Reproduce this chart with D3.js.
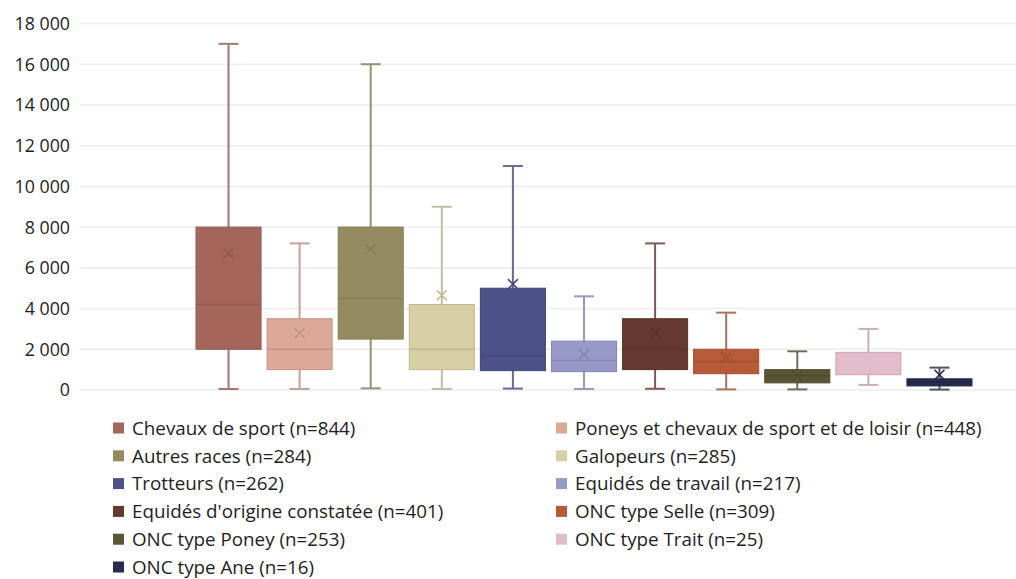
<!DOCTYPE html>
<html>
<head>
<meta charset="utf-8">
<script src="https://cdn.jsdelivr.net/npm/d3@7"></script>
<style>
  body { margin: 0; background: #fff; }
  svg { display: block; font-family: "Open Sans", sans-serif; }
</style>
</head>
<body>
<div id="chart"></div>
<script>
// data
var categories = ["Chevaux de sport", "Poneys et chevaux de sport et de loisir", "Autres races",
                  "Galopeurs", "Trotteurs", "Equidés de travail", "Equidés d'origine constatée",
                  "ONC type Selle", "ONC type Poney", "ONC type Trait", "ONC type Ane"];
var counts  = [844, 448, 284, 285, 262, 217, 401, 309, 253, 25, 16];
var mins    = [50, 50, 80, 50, 70, 50, 60, 30, 30, 250, 20];
var q1s     = [2000, 1000, 2500, 1000, 950, 900, 1000, 800, 350, 750, 200];
var medians = [4200, 2000, 4500, 2000, 1700, 1450, 2000, 1400, 700, 1250, 400];
var q3s     = [8000, 3500, 8000, 4200, 5000, 2400, 3500, 2000, 1000, 1850, 550];
var maxs    = [17000, 7200, 16000, 9000, 11000, 4600, 7200, 3800, 1900, 3000, 1100];
var means   = [6700, 2800, 6900, 4650, 5200, 1750, 2800, 1600, 700, 1300, 750];
var yTicks  = [0, 2000, 4000, 6000, 8000, 10000, 12000, 14000, 16000, 18000];

var colors = ["#a4665a", "#dca898", "#948c60", "#d7d0a4", "#4c5188", "#9899c8",
              "#653a2e", "#b75a37", "#5a5535", "#e3bccb", "#272b4f"];

var w = 1016, h = 579;
var svg = d3.select("#chart").append("svg")
            .attr("width", w)
            .attr("height", h);

var y = d3.scaleLinear().domain([0, 18000]).range([390, 23.5]);
var x = d3.scaleBand().domain(categories).range([196, 972])
          .paddingInner(0.085).paddingOuter(0);

var fmt = function(d) { return d3.format(",")(d).replace(/,/g, " "); };

// gridlines
svg.append("g").selectAll("line")
   .data(yTicks)
   .enter()
   .append("line")
   .attr("x1", 80).attr("x2", w)
   .attr("y1", function(d) { return y(d); })
   .attr("y2", function(d) { return y(d); })
   .attr("stroke", "#ececec")
   .attr("stroke-width", 1.5);

// y labels
svg.append("g").selectAll("text")
   .data(yTicks)
   .enter()
   .append("text")
   .attr("x", 70)
   .attr("y", function(d) { return y(d); })
   .attr("dy", "0.36em")
   .attr("text-anchor", "end")
   .attr("font-size", "17.8px")
   .attr("fill", "#1e1e1e")
   .text(fmt);

var idx = d3.range(categories.length);
var boxes = svg.append("g").selectAll("g")
   .data(idx)
   .enter()
   .append("g");

function cx(i) { return x(categories[i]) + x.bandwidth() / 2; }
function whiskerCol(i) { return d3.interpolateRgb(colors[i], "#9a9a9a")(0.35); }
function darker(i) { return d3.color(colors[i]).darker(0.35); }

// whiskers
boxes.append("line")
   .attr("x1", cx).attr("x2", cx)
   .attr("y1", function(i) { return y(maxs[i]); })
   .attr("y2", function(i) { return y(mins[i]); })
   .attr("stroke", whiskerCol)
   .attr("stroke-width", 2);
boxes.selectAll(".cap")
   .data(function(i) { return [[i, maxs[i]], [i, mins[i]]]; })
   .enter()
   .append("line")
   .attr("x1", function(d) { return cx(d[0]) - 10; })
   .attr("x2", function(d) { return cx(d[0]) + 10; })
   .attr("y1", function(d) { return y(d[1]); })
   .attr("y2", function(d) { return y(d[1]); })
   .attr("stroke", function(d) { return whiskerCol(d[0]); })
   .attr("stroke-width", 2);

// boxes
boxes.append("rect")
   .attr("x", function(i) { return x(categories[i]); })
   .attr("width", x.bandwidth())
   .attr("y", function(i) { return y(q3s[i]); })
   .attr("height", function(i) { return y(q1s[i]) - y(q3s[i]); })
   .attr("fill", function(i) { return colors[i]; })
   .attr("stroke", darker)
   .attr("stroke-width", 1);

// medians
boxes.append("line")
   .attr("x1", function(i) { return x(categories[i]); })
   .attr("x2", function(i) { return x(categories[i]) + x.bandwidth(); })
   .attr("y1", function(i) { return y(medians[i]); })
   .attr("y2", function(i) { return y(medians[i]); })
   .attr("stroke", function(i) { return i === 9 ? colors[i] : darker(i); })
   .attr("stroke-width", 1.5);

// mean markers
boxes.append("path")
   .attr("d", function(i) {
       var px = cx(i), py = y(means[i]), s = 5;
       return "M" + (px - s) + "," + (py - s) + "L" + (px + s) + "," + (py + s) +
              "M" + (px - s) + "," + (py + s) + "L" + (px + s) + "," + (py - s);
   })
   .attr("fill", "none")
   .attr("stroke", function(i) { return i === 9 ? colors[i] : darker(i); })
   .attr("stroke-width", 1.5);

// legend
var legend = svg.append("g").selectAll("g")
   .data(idx)
   .enter()
   .append("g")
   .attr("transform", function(i) {
       var col = i % 2, row = Math.floor(i / 2);
       return "translate(" + (col ? 556 : 113) + "," + (428 + row * 27.8) + ")";
   });
legend.append("rect")
   .attr("x", 0).attr("y", -5.5)
   .attr("width", 11).attr("height", 11)
   .attr("fill", function(i) { return colors[i]; });
legend.append("text")
   .attr("x", 19)
   .attr("dy", "0.36em")
   .attr("font-size", "18.8px")
   .attr("fill", "#1e1e1e")
   .text(function(i) { return categories[i] + " (n=" + counts[i] + ")"; });
</script>
</body>
</html>
